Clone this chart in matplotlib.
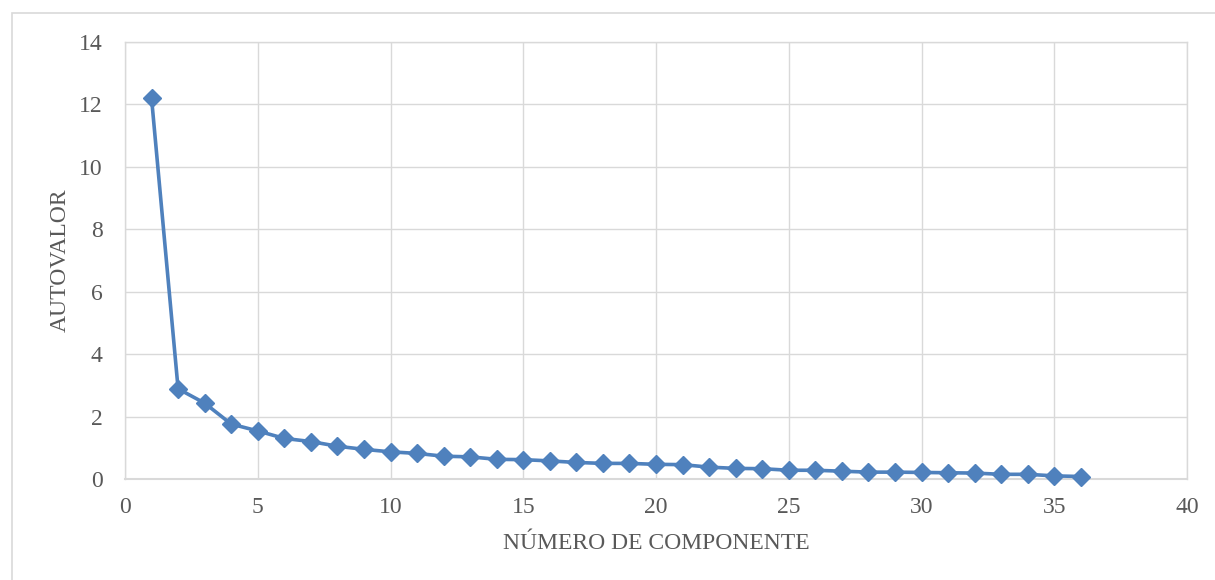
import matplotlib
matplotlib.use("Agg")
import matplotlib.pyplot as plt
from matplotlib.patches import Rectangle

componentes = list(range(1, 37))
autovalores = [12.2, 2.89, 2.43, 1.76, 1.54, 1.30, 1.20, 1.05, 0.95, 0.87,
               0.82, 0.73, 0.71, 0.63, 0.62, 0.58, 0.53, 0.50, 0.50, 0.47,
               0.46, 0.38, 0.34, 0.33, 0.28, 0.28, 0.25, 0.22, 0.22, 0.21,
               0.20, 0.19, 0.15, 0.15, 0.10, 0.08]
x_ticks = [0, 5, 10, 15, 20, 25, 30, 35, 40]
y_ticks = [0, 2, 4, 6, 8, 10, 12, 14]
x_label = "NÚMERO DE COMPONENTE"
y_label = "AUTOVALOR"

plt.rcParams['font.family'] = ['Liberation Serif', 'DejaVu Serif']
W, H = 1215, 580
fig = plt.figure(figsize=(W / 100, H / 100), dpi=100)
ax = fig.add_axes([125 / W, 1 - 479 / H, (1187 - 125) / W, (479 - 42) / H])

# outer chart border
fig.patches.append(Rectangle((12 / W, -0.1), 1.2, 1 - 13 / H + 0.1,
                             transform=fig.transFigure, fill=False,
                             edgecolor='#D9D9D9', linewidth=1.2))

color = '#4F81BD'
ax.plot(componentes, autovalores, color=color, linewidth=2.6, marker='D',
        markersize=9, markeredgecolor=color, markerfacecolor=color, zorder=3,
        clip_on=False)

ax.set_xlim(0, 40)
ax.set_ylim(0, 14)
ax.set_xticks(x_ticks)
ax.set_yticks(y_ticks)
ax.grid(True, color='#D9D9D9', linewidth=1.0)
ax.set_axisbelow(True)
for s in ax.spines.values():
    s.set_color('#D9D9D9')
    s.set_linewidth(1.0)
ax.spines['bottom'].set_linewidth(1.5)
ax.tick_params(axis='both', length=0, labelsize=17, labelcolor='#595959')
ax.tick_params(axis='x', pad=13)
ax.tick_params(axis='y', pad=16)
ax.set_xlabel(x_label, fontsize=17, color='#595959', labelpad=11)
ax.set_ylabel(y_label, fontsize=17, color='#595959', labelpad=6)

fig.savefig("out.png", dpi=100)
